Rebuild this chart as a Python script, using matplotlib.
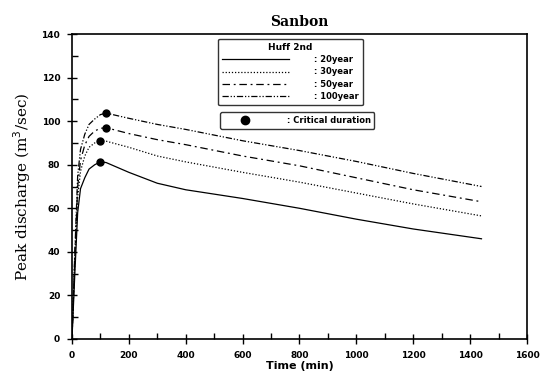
import matplotlib
matplotlib.use('Agg')
import matplotlib.pyplot as plt
from matplotlib.lines import Line2D
from matplotlib.ticker import MultipleLocator

# durations (min) and peak discharge (m3/sec) for each return period
time = [0, 10, 20, 30, 45, 60, 80, 100, 120, 200, 300, 400, 600, 800, 1000, 1200, 1440]
q20 = [0, 30, 58, 69, 74, 78, 80, 81.3, 81, 76.5, 71.5, 68.5, 64.5, 60, 55, 50.5, 46]
q30 = [0, 35, 65, 77, 84, 88, 90, 91, 90.8, 88, 84, 81.3, 76.5, 72, 67, 62, 56.5]
q50 = [0, 38, 70, 82, 89, 93, 95.5, 96.7, 97, 94.3, 91.5, 89.2, 84, 79.5, 74, 68.5, 63]
q100 = [0, 40, 75, 87, 94, 98.5, 101, 103, 103.7, 101.3, 98.5, 96.2, 91, 86.5, 81.5, 76, 70]

labels = [': 20year', ': 30year', ': 50year', ': 100year']
# critical duration points
crit_t = [100, 100, 120, 120]
crit_q = [81.3, 91, 97, 103.7]

styles = ['-', (0, (1, 1.5)), (0, (6, 3, 1.5, 3)), (0, (5, 1.5, 1, 1.5, 1, 1.5))]

fig = plt.figure(figsize=(5.4, 3.83), dpi=100)
ax = fig.add_axes([0.1333, 0.1149, 0.8426, 0.7963])

handles = []
for q, ls, lab in zip([q20, q30, q50, q100], styles, labels):
    h, = ax.plot(time, q, color='black', lw=0.9, linestyle=ls, label=lab)
    handles.append(h)
ax.plot(crit_t, crit_q, 'o', color='black', ms=5, zorder=3)

ax.set_xlim(0, 1600)
ax.set_ylim(0, 140)
ax.xaxis.set_major_locator(MultipleLocator(200))
ax.xaxis.set_minor_locator(MultipleLocator(100))
ax.yaxis.set_major_locator(MultipleLocator(20))
ax.yaxis.set_minor_locator(MultipleLocator(10))
ax.tick_params(which='major', direction='inout', length=7, width=1, labelsize=6.5, pad=5)
ax.tick_params(which='minor', direction='in', length=4, width=1)
for lab in ax.get_xticklabels() + ax.get_yticklabels():
    lab.set_fontweight('bold')
for s in ax.spines.values():
    s.set_linewidth(1.2)

ax.set_xlabel('Time (min)', fontsize=8, fontweight='bold', labelpad=1)
ax.set_ylabel('Peak discharge (m$^3$/sec)', fontsize=11, family='DejaVu Serif', labelpad=6)
ax.set_title('Sanbon', fontsize=10, family='DejaVu Serif', fontweight='bold', pad=6)

leg1 = ax.legend(handles=handles, loc='upper left', bbox_to_anchor=(0.321, 0.985),
                 title='Huff 2nd', fontsize=6, handlelength=8, frameon=True,
                 fancybox=True, edgecolor='black', borderpad=0.5, labelspacing=0.4,
                 handletextpad=3, borderaxespad=0)
leg1.get_title().set_fontweight('bold')
leg1.get_title().set_fontsize(6.5)
for t in leg1.get_texts():
    t.set_fontweight('bold')
leg1.get_frame().set_linewidth(1.0)
ax.add_artist(leg1)

dot = Line2D([], [], marker='o', color='black', linestyle='none', ms=6)
leg2 = ax.legend(handles=[dot], labels=[': Critical duration'], loc='upper left',
                 bbox_to_anchor=(0.326, 0.744), fontsize=6, handlelength=5,
                 frameon=True, fancybox=True, edgecolor='black', borderpad=0.45,
                 handletextpad=2.5, borderaxespad=0)
for t in leg2.get_texts():
    t.set_fontweight('bold')
leg2.get_frame().set_linewidth(1.0)

fig.savefig('out.png', dpi=100)
